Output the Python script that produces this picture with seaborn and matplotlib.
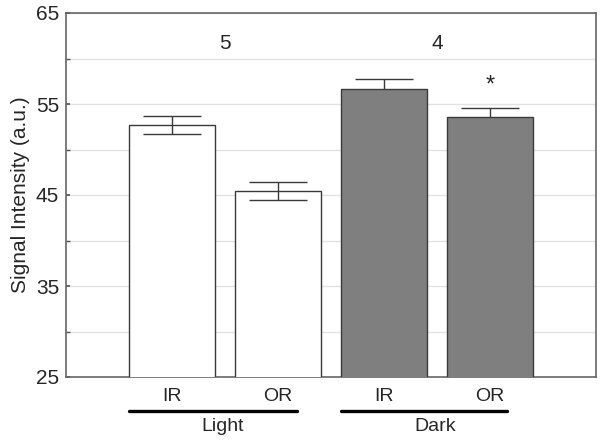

# gráfico de barras: intensidade de sinal (IR / OR) em Light e Dark
import numpy as np
import pandas as pd
import matplotlib
matplotlib.use("Agg")
import matplotlib.pyplot as plt
import matplotlib.transforms as mtransforms
import seaborn as sns

# dados
grupos = ["Light IR", "Light OR", "Dark IR", "Dark OR"]
regioes = ["IR", "OR", "IR", "OR"]
condicoes = ["Light", "Dark"]
media = [52.7, 45.4, 56.6, 53.6]
erro = [0.95, 1.0, 1.1, 1.0]
n_animais = ["5", "4"]

df = pd.DataFrame({"grupo": grupos, "sinal": media})

sns.set_theme(style="white")
plt.rcParams["font.family"] = ["Liberation Sans", "DejaVu Sans"]

fig = plt.figure(figsize=(6.01, 4.41), dpi=100)
ax = fig.add_axes([66 / 601, 1 - 377 / 441, 530 / 601, 364 / 441])

cores = ["white", "white", "#7f7f7f", "#7f7f7f"]
sns.barplot(data=df, x="grupo", y="sinal", hue="grupo", palette=cores,
            width=0.81, edgecolor="#3a3a3a", linewidth=1.0, legend=False,
            saturation=1, ax=ax, zorder=3)

# barras de erro (nas barras escuras a parte de baixo fica por trás)
for i in range(len(media)):
    z = 4 if cores[i] == "white" else 2
    ax.errorbar(i, media[i], yerr=erro[i], fmt="none", ecolor="#3a3a3a",
                elinewidth=1.0, capsize=21, capthick=1.0, zorder=z)

ax.set_xlim(-1, 4)
ax.set_ylim(25, 65)
ax.set_yticks([25, 35, 45, 55, 65])
ax.set_yticks([30, 40, 50, 60], minor=True)
ax.set_xticks(range(4))
ax.set_xticklabels(regioes)
ax.set_xlabel("")
ax.set_ylabel("Signal Intensity (a.u.)", fontsize=15, labelpad=4)
ax.tick_params(axis="y", which="both", direction="in", length=3, labelsize=15,
               left=True, color="#555555", pad=5)
ax.tick_params(axis="x", direction="in", length=3, labelsize=14, bottom=True,
               color="#555555", pad=8)
ax.grid(True, axis="y", which="both", color="#e2e2e2", linewidth=1.0, zorder=0)
ax.set_axisbelow(True)
for s in ax.spines.values():
    s.set_visible(True)
    s.set_color("#666666")
    s.set_linewidth(1.2)

# números de animais e asterisco
ax.text(0.5, 61.7, n_animais[0], ha="center", va="center", fontsize=15)
ax.text(2.5, 61.7, n_animais[1], ha="center", va="center", fontsize=15)
ax.text(3, 57.0, "*", ha="center", va="center", fontsize=17)

# linhas e rótulos dos grupos abaixo do eixo
trans = mtransforms.blended_transform_factory(ax.transData, ax.transAxes)
ax.plot([-0.41, 1.18], [-0.093, -0.093], color="black", lw=2.4,
        transform=trans, clip_on=False)
ax.plot([1.59, 3.16], [-0.093, -0.093], color="black", lw=2.4,
        transform=trans, clip_on=False)
ax.text(0.48, -0.137, condicoes[0], ha="center", va="center", fontsize=14,
        transform=trans)
ax.text(2.48, -0.137, condicoes[1], ha="center", va="center", fontsize=14,
        transform=trans)

fig.savefig("out.png", dpi=100)
